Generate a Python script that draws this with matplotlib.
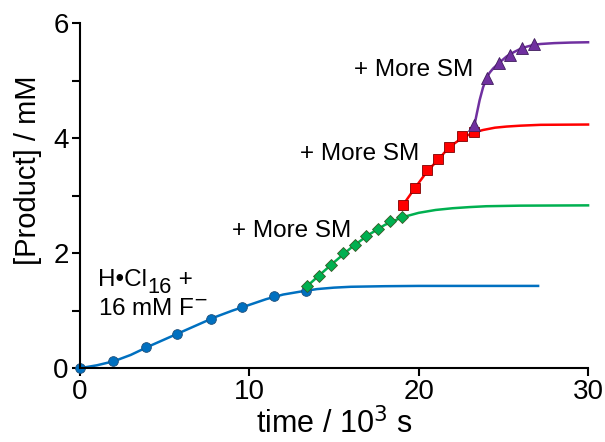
import matplotlib.pyplot as plt

plt.rcParams['font.family'] = ['Liberation Sans', 'DejaVu Sans']

# measured points (time / 10^3 s, product / mM)
blue_t = [0, 1.97, 3.88, 5.75, 7.72, 9.55, 11.48, 13.33]
blue_y = [0, 0.12, 0.36, 0.59, 0.85, 1.06, 1.25, 1.34]
green_t = [13.43, 14.10, 14.81, 15.52, 16.23, 16.89, 17.60, 18.31, 19.00]
green_y = [1.43, 1.60, 1.79, 2.01, 2.14, 2.29, 2.42, 2.56, 2.62]
red_t = [19.06, 19.79, 20.48, 21.16, 21.81, 22.58, 23.27]
red_y = [2.83, 3.14, 3.44, 3.63, 3.85, 4.03, 4.10]
purple_t = [23.29, 24.02, 24.75, 25.42, 26.09, 26.82]
purple_y = [4.22, 5.05, 5.30, 5.45, 5.56, 5.63]

# fitted curves
blue_fit_t = [0, 1, 2, 3, 4, 5, 6, 7, 8, 9, 10, 11, 12, 13, 14, 15, 16, 18, 20, 24, 27.05]
blue_fit_y = [0, 0.05, 0.12, 0.23, 0.37, 0.50, 0.63, 0.76, 0.89, 1.00, 1.10, 1.20, 1.28,
              1.33, 1.375, 1.40, 1.415, 1.425, 1.43, 1.43, 1.43]
green_fit_t = [13.43, 14, 15, 16, 17, 18, 19, 20, 21, 22, 23, 24, 26, 30]
green_fit_y = [1.43, 1.58, 1.84, 2.09, 2.31, 2.49, 2.62, 2.70, 2.75, 2.78, 2.80, 2.815, 2.825, 2.83]
red_fit_t = [19.06, 19.8, 20.5, 21.2, 21.8, 22.6, 23.3, 23.8, 24.5, 25.2, 26, 27.2, 30]
red_fit_y = [2.83, 3.14, 3.42, 3.64, 3.84, 4.01, 4.10, 4.14, 4.18, 4.20, 4.215, 4.23, 4.235]
purple_fit_t = [23.29, 23.45, 23.6, 23.8, 24.02, 24.2, 24.4, 24.8, 25.2, 25.6, 26.0, 26.4,
                26.8, 27.2, 28, 29, 30]
purple_fit_y = [4.22, 4.45, 4.66, 4.88, 5.05, 5.14, 5.21, 5.32, 5.42, 5.49, 5.55, 5.59,
                5.62, 5.635, 5.65, 5.66, 5.665]

fig = plt.figure(figsize=(6.05, 4.42), dpi=100)
ax = fig.add_axes([0.132, 0.167, 0.840, 0.781])

ax.plot(blue_fit_t, blue_fit_y, color='#0070C0', lw=1.8, clip_on=False)
ax.plot(green_fit_t, green_fit_y, color='#00B050', lw=1.8, clip_on=False)
ax.plot(red_fit_t, red_fit_y, color='#FF0000', lw=1.8, clip_on=False)
ax.plot(purple_fit_t, purple_fit_y, color='#7030A0', lw=1.8, clip_on=False)

ax.plot(blue_t, blue_y, 'o', ms=7, color='#0070C0', mec='#1F4E79', mew=0.6, clip_on=False)
ax.plot(green_t, green_y, 'D', ms=6, color='#00B050', mec='#385723', mew=0.6, clip_on=False)
ax.plot(red_t, red_y, 's', ms=7, color='#FF0000', mec='#7F0000', mew=0.6, clip_on=False)
ax.plot(purple_t, purple_y, '^', ms=8, color='#7030A0', mec='#3F1D5C', mew=0.6, clip_on=False)

# "H•Cl16 +" with a near full-size subscript, as in the original
fs = 17.5
t1 = ax.text(1.05, 1.43, 'H•Cl', fontsize=fs, va='baseline')
sub = ax.annotate('16', xy=(1, 1.43), xycoords=(t1, 'data'), xytext=(0.5, -5),
                  textcoords='offset points', fontsize=fs * 0.9, va='baseline')
ax.annotate(' +', xy=(1, 1.43), xycoords=(sub, 'data'), fontsize=fs, va='baseline')
ax.text(1.05, 0.92, '16 mM F$^{-}$', fontsize=fs, va='baseline')

ax.text(9.0, 2.38, '+ More SM', fontsize=fs, va='center')
ax.text(13.0, 3.72, '+ More SM', fontsize=fs, va='center')
ax.text(16.2, 5.18, '+ More SM', fontsize=fs, va='center')

ax.set_xlim(0, 30)
ax.set_ylim(0, 6)
ax.set_xticks([0, 10, 20, 30])
ax.set_yticks([0, 2, 4, 6])
ax.set_yticks([1, 3, 5], minor=True)
ax.spines['top'].set_visible(False)
ax.spines['right'].set_visible(False)
for s in ['left', 'bottom']:
    ax.spines[s].set_linewidth(1.5)
ax.tick_params(which='both', width=1.5, length=6, direction='out')
ax.tick_params(labelsize=20, pad=2)
ax.set_xlabel('time / 10$^3$ s', fontsize=22, labelpad=2)
ax.set_ylabel('[Product] / mM', fontsize=21)
ax.yaxis.set_label_coords(-0.075, 0.574)

fig.savefig('out.png', dpi=100)
